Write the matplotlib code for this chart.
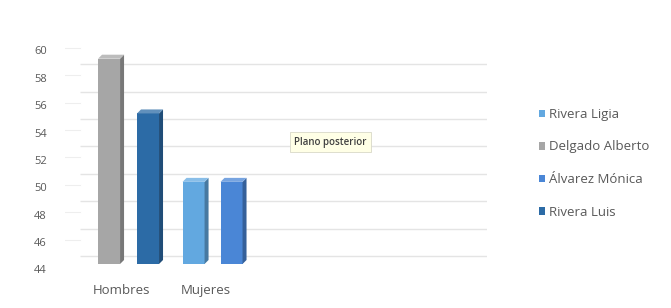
import matplotlib
matplotlib.use('Agg')
import matplotlib.pyplot as plt
import matplotlib.transforms as mtrans
from matplotlib.patches import Polygon, Patch
import numpy as np

# data
categories = ['Hombres', 'Mujeres']
series = ['Rivera Ligia', 'Delgado Alberto', 'Álvarez Mónica', 'Rivera Luis']
colors = ['#62A8E0', '#A6A6A6', '#4A86D6', '#2C6BA6']
# value per series for each category (None = no bar)
hombres = [None, 59, None, 55]
mujeres = [50, None, 50, None]
yticks = list(range(44, 61, 2))

plt.rcParams['font.family'] = ['Open Sans', 'DejaVu Sans']

fig = plt.figure(figsize=(6.71, 3.08), dpi=100)
ax = fig.add_axes([0.0969, 0.1429, 0.629, 0.711])
ax.set_xlim(-0.756, 4.268)
ax.set_ylim(44, 60)
ax.axis('off')

def darker(c, f):
    r, g, b = matplotlib.colors.to_rgb(c)
    return (r * f, g * f, b * f)

def lighter(c, f):
    r, g, b = matplotlib.colors.to_rgb(c)
    return (r + (1 - r) * f, g + (1 - g) * f, b + (1 - b) * f)

# back wall gridlines, shifted up a little
up = mtrans.ScaledTranslation(0, 8 / 100, fig.dpi_scale_trans)
down = mtrans.ScaledTranslation(0, -3 / 100, fig.dpi_scale_trans)
ytr = ax.get_yaxis_transform()
for t in yticks:
    ax.plot([0.036, 1.0], [t, t], color='#E4E4E4', lw=1.0, transform=ytr + up,
            solid_capstyle='butt', zorder=0)
    ax.plot([0.0, 0.036], [t, t], color='#EEEEEE', lw=0.8, transform=ytr + down,
            zorder=0)
    ax.text(-0.043, t, str(t), transform=ytr + mtrans.ScaledTranslation(0, -7 / 100, fig.dpi_scale_trans),
            ha='right', va='center', fontsize=8, color='#595959')

# bars with a side and top face
width = 0.262
dx = 4 / 84.0
dy = 4 / (219 / 16.0)
offsets = {0: [-0.232, 0.232], 1: [-0.226, 0.226]}
for ci, vals in enumerate([hombres, mujeres]):
    k = 0
    for si, v in enumerate(vals):
        if v is None:
            continue
        x = ci + offsets[ci][k]
        k += 1
        c = colors[si]
        x0, x1 = x - width / 2, x + width / 2
        ax.bar(x, v - 44, width, bottom=44, color=c, edgecolor='none', zorder=2)
        side = Polygon([(x1, 44), (x1 + dx, 44 + dy), (x1 + dx, v + dy), (x1, v)],
                       closed=True, facecolor=darker(c, 0.72), edgecolor='none', zorder=2)
        top = Polygon([(x0, v), (x0 + dx, v + dy), (x1 + dx, v + dy), (x1, v)],
                      closed=True, facecolor=lighter(c, 0.25), edgecolor='none', zorder=2)
        ax.add_patch(side)
        ax.add_patch(top)

# category labels
xtr = ax.get_xaxis_transform()
for i, name in enumerate(categories):
    ax.text(i - 0.08, -0.12, name, transform=xtr, ha='center', va='center',
            fontsize=9.5, color='#595959')

# legend
handles = [Patch(facecolor=c, edgecolor='none') for c in colors]
fig.legend(handles, series, loc='center left', bbox_to_anchor=(0.785, 0.47),
           frameon=False, fontsize=9.5, labelcolor='#595959', handlelength=0.5,
           handleheight=0.5, handletextpad=0.25, labelspacing=1.48)

# tooltip
fig.text(0.492, 0.538, 'Plano posterior', ha='center', va='center', fontsize=7,
         fontweight='semibold', color='#404040',
         bbox=dict(boxstyle='square,pad=0.45', facecolor='#FFFFE6', edgecolor='#D8D8C8', lw=0.6))

fig.savefig('out.png', dpi=100)
